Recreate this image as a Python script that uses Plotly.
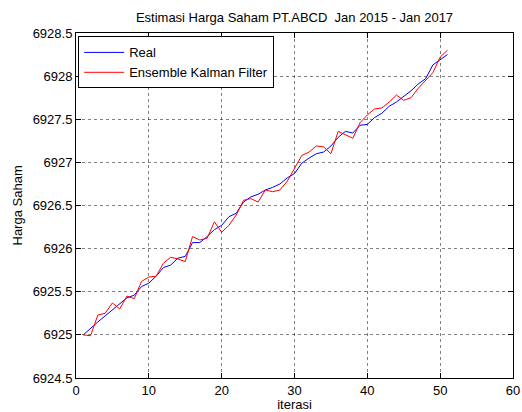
import plotly.graph_objects as go

iterasi = list(range(1, 52))
real = [6925.00, 6925.08, 6925.15, 6925.22, 6925.29, 6925.36, 6925.43, 6925.46, 6925.56, 6925.60,
        6925.68, 6925.78, 6925.81, 6925.89, 6925.91, 6926.07, 6926.07, 6926.14, 6926.22, 6926.27,
        6926.37, 6926.41, 6926.54, 6926.60, 6926.63, 6926.68, 6926.71, 6926.75, 6926.82, 6926.87,
        6926.99, 6927.05, 6927.10, 6927.12, 6927.19, 6927.29, 6927.36, 6927.34, 6927.43, 6927.44,
        6927.52, 6927.57, 6927.65, 6927.70, 6927.76, 6927.83, 6927.91, 6927.97, 6928.13, 6928.19,
        6928.25]
enkf = [6925.00, 6924.99, 6925.23, 6925.25, 6925.37, 6925.30, 6925.45, 6925.42, 6925.62, 6925.67,
        6925.68, 6925.83, 6925.90, 6925.88, 6925.85, 6926.14, 6926.10, 6926.12, 6926.31, 6926.19,
        6926.27, 6926.39, 6926.56, 6926.58, 6926.54, 6926.68, 6926.66, 6926.68, 6926.78, 6926.93,
        6927.08, 6927.12, 6927.19, 6927.18, 6927.10, 6927.36, 6927.32, 6927.28, 6927.46, 6927.55,
        6927.62, 6927.63, 6927.70, 6927.78, 6927.72, 6927.75, 6927.86, 6927.95, 6928.04, 6928.22,
        6928.30]

x_ticks = [0, 10, 20, 30, 40, 50, 60]
y_ticks = [6924.5, 6925, 6925.5, 6926, 6926.5, 6927, 6927.5, 6928, 6928.5]
y_ticktext = ["6924.5", "6925", "6925.5", "6926", "6926.5", "6927", "6927.5", "6928", "6928.5"]

FONT = "Liberation Sans, Arial, sans-serif"

fig = go.Figure()
fig.add_trace(go.Scatter(x=iterasi, y=real, mode="lines", name="Real",
                         line=dict(color="rgb(0,0,255)", width=1)))
fig.add_trace(go.Scatter(x=iterasi, y=enkf, mode="lines", name="Ensemble Kalman Filter",
                         line=dict(color="rgb(255,0,0)", width=1)))

axis_common = dict(
    showline=True, linecolor="black", linewidth=1, mirror="allticks",
    ticks="inside", ticklen=5, tickcolor="black",
    showgrid=True, gridcolor="rgba(0,0,0,0.5)", griddash="dot", gridwidth=1,
    zeroline=False, tickfont=dict(family=FONT, size=13, color="black"),
    automargin=False, ticklabeloverflow="allow",
)

fig.update_xaxes(range=[0, 60], tickvals=x_ticks,
                 title=dict(text="iterasi", font=dict(family=FONT, size=13, color="black")),
                 **axis_common)
fig.update_yaxes(range=[6924.5, 6928.5], tickvals=y_ticks, ticktext=y_ticktext,
                 **axis_common)

fig.add_annotation(text="Harga Saham", textangle=-90, xref="paper", yref="paper",
                   x=(17 - 76) / 437, y=0.5, xanchor="center", yanchor="middle",
                   showarrow=False, font=dict(family=FONT, size=13, color="black"))

fig.update_layout(
    width=522, height=412,
    margin=dict(l=76, r=9, t=33, b=34),
    paper_bgcolor="white", plot_bgcolor="white",
    title=dict(text="Estimasi Harga Saham PT.ABCD  Jan 2015 - Jan 2017",
               font=dict(family=FONT, size=13, color="black"),
               x=294.5 / 522, xanchor="center", y=1 - 17 / 412, yanchor="middle"),
    legend=dict(x=0.005, y=0.99, xanchor="left", yanchor="top",
                bgcolor="white", bordercolor="black", borderwidth=1, itemwidth=40,
                font=dict(family=FONT, size=13, color="black")),
    showlegend=True,
)

fig.write_html("out.html", config={"displayModeBar": False},
               post_script="document.body.style.margin='0';")
